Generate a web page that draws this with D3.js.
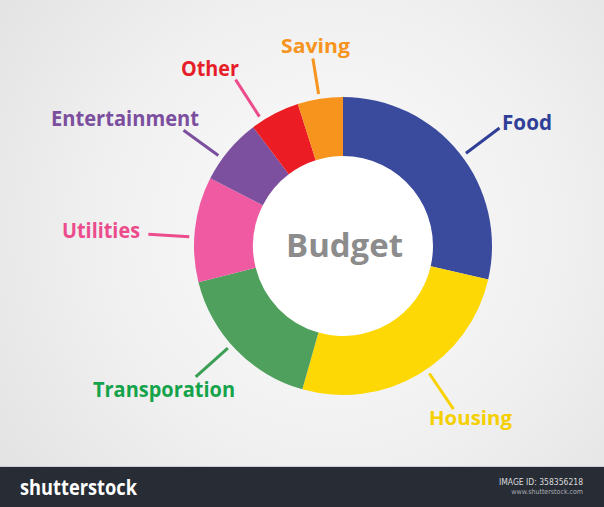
<!DOCTYPE html>
<html><head><meta charset="utf-8">
<script src="https://cdn.jsdelivr.net/npm/d3@7"></script>
<style>html,body{margin:0;padding:0;background:#eee;overflow:hidden}</style>
</head><body><svg id="c" width="604" height="507"></svg>
<script>
// ---- data ----
const categories = ["Food","Housing","Transporation","Utilities","Entertainment","Other","Saving"];
const values = [28.6, 25.8, 16.7, 11.4, 7.2, 5.4, 4.9];
const sliceColors = ["#3a4b9e","#fdd804","#50a05d","#ef5aa2","#7c509f","#ec1c24","#f7941e"];
const labelColors = ["#2f3f97","#f5cf00","#14a34a","#ec4b8c","#7b4e9e","#e61e2a","#f7941e"];
const lineColors  = ["#2f3f97","#f9d100","#3a9f55","#ec4b8c","#7b4e9e","#ec4b8c","#f7941e"];
const centerTitle = "Budget";

// ---- layout ----
const W = 604, H = 507, cx = 343, cy = 246, rOuter = 149, rInner = 90;
const labelLayout = {
  "Food":          {x: 502, y: 130, size: 21, w: 50,  off:  1.5, r2: 196},
  "Housing":       {x: 429, y: 425, size: 20, w: 83,  off: -3.5, r2: 197},
  "Transporation": {x: 93,  y: 397, size: 21, w: 142, off:  2.5, r2: 197},
  "Utilities":     {x: 62,  y: 238, size: 21, w: 78,  off: -3,   r2: 195},
  "Entertainment": {x: 51,  y: 126, size: 21, w: 148, off: -4,   r2: 197},
  "Other":         {x: 181, y: 76,  size: 21, w: 58,  off: -5.5, r2: 198},
  "Saving":        {x: 281, y: 53,  size: 20, w: 69,  off: -0.3, r2: 190}
};
const FONT = "'Open Sans', 'Noto Sans', sans-serif";
const NARROW = "'Liberation Sans Narrow','DejaVu Sans Condensed',sans-serif";

const svg = d3.select("#c");
const defs = svg.append("defs");
const grad = defs.append("radialGradient").attr("id","bg")
  .attr("gradientUnits","userSpaceOnUse").attr("cx",330).attr("cy",230).attr("r",420);
grad.append("stop").attr("offset","0").attr("stop-color","#fbfbfb");
grad.append("stop").attr("offset","0.55").attr("stop-color","#f0f0f0");
grad.append("stop").attr("offset","1").attr("stop-color","#e2e2e2");
svg.append("rect").attr("width",W).attr("height",H).attr("fill","url(#bg)");

const g = svg.append("g").attr("transform",`translate(${cx},${cy})`);
const pie = d3.pie().sort(null).value(d => d)(values);
const arc = d3.arc().innerRadius(rInner).outerRadius(rOuter);

g.append("circle").attr("r", rInner).attr("fill","#ffffff");
g.selectAll("path.slice").data(pie).join("path")
  .attr("class","slice").attr("d", arc)
  .attr("fill",(d,i)=>sliceColors[i]);

// leader lines
g.selectAll("line.leader").data(pie).join("line")
  .attr("class","leader")
  .each(function(d,i){
    const L = labelLayout[categories[i]];
    const a = (d.startAngle + d.endAngle)/2 + L.off*Math.PI/180;
    const p1 = d3.pointRadial(a, 154), p2 = d3.pointRadial(a, L.r2);
    d3.select(this).attr("x1",p1[0]).attr("y1",p1[1]).attr("x2",p2[0]).attr("y2",p2[1]);
  })
  .attr("stroke",(d,i)=>lineColors[i]).attr("stroke-width",3);

// labels
svg.selectAll("text.lbl").data(categories).join("text")
  .attr("class","lbl")
  .attr("x",d=>labelLayout[d].x).attr("y",d=>labelLayout[d].y)
  .attr("font-family",FONT).attr("font-weight","bold")
  .attr("font-size",d=>labelLayout[d].size)
  .attr("textLength",d=>labelLayout[d].w).attr("lengthAdjust","spacingAndGlyphs")
  .attr("fill",(d,i)=>labelColors[i]).text(d=>d);

// center title
svg.append("text").attr("x",286).attr("y",257)
  .attr("font-family",FONT).attr("font-weight","bold").attr("font-size",33)
  .attr("textLength",117).attr("lengthAdjust","spacingAndGlyphs")
  .attr("fill","#8c8c8c").text(centerTitle);

// footer bar
svg.append("rect").attr("x",0).attr("y",466).attr("width",W).attr("height",1).attr("fill","#c9ced6");
svg.append("rect").attr("x",0).attr("y",467).attr("width",W).attr("height",H-467).attr("fill","#272c35");
svg.append("text").attr("x",20).attr("y",495)
  .attr("font-family",FONT).attr("font-weight","bold").attr("font-size",21)
  .attr("textLength",117).attr("lengthAdjust","spacingAndGlyphs")
  .attr("fill","#ffffff").text("shutterstock");
svg.append("text").attr("x",583).attr("y",485).attr("text-anchor","end")
  .attr("font-family",NARROW).attr("font-size",8.5).attr("fill","#dcdcdc")
  .text("IMAGE ID: 358356218");
svg.append("text").attr("x",583).attr("y",494).attr("text-anchor","end")
  .attr("font-family",NARROW).attr("font-size",7)
  .attr("fill","#a9adb3").text("www.shutterstock.com");
</script></body></html>
